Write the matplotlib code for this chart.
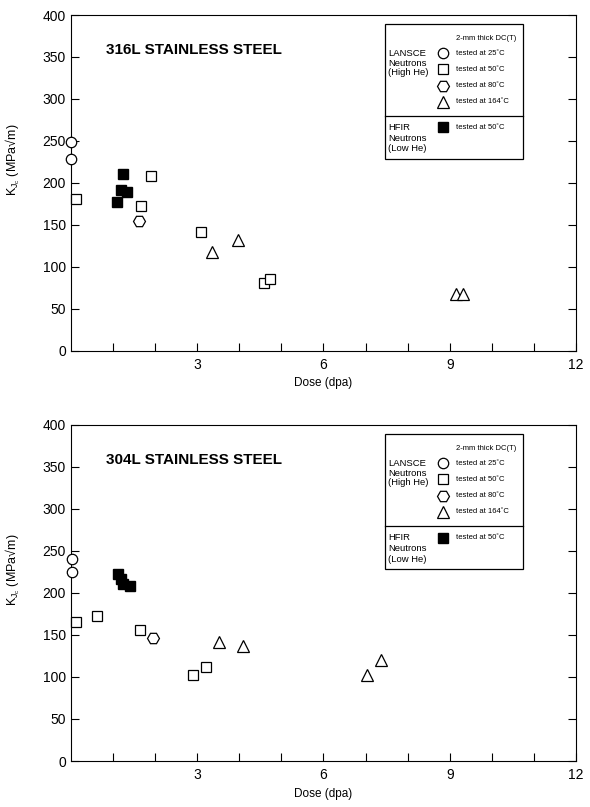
import numpy as np
import matplotlib
matplotlib.use("Agg")
import matplotlib.pyplot as plt
from matplotlib.patches import Rectangle
from matplotlib.lines import Line2D

plt.rcParams['font.family'] = ['Liberation Sans', 'DejaVu Sans']
plt.rcParams['mathtext.fontset'] = 'custom'
plt.rcParams['mathtext.rm'] = 'Liberation Sans'
plt.rcParams['mathtext.it'] = 'Liberation Sans'

# ---------- datos 316L ----------
a_c25_x = [0.0, 0.0]
a_c25_y = [249, 228]
a_s50_x = [0.12, 1.90, 1.67, 3.10, 4.59, 4.73]
a_s50_y = [181, 208, 173, 142, 81, 86]
a_h80_x = [1.61]
a_h80_y = [154]
a_t164_x = [3.35, 3.97, 9.16, 9.32]
a_t164_y = [118, 132, 67, 67]
a_hfir_x = [1.23, 1.18, 1.34, 1.10]
a_hfir_y = [211, 192, 189, 177]

# ---------- datos 304L ----------
b_c25_x = [0.02, 0.02]
b_c25_y = [241, 225]
b_s50_x = [0.12, 0.61, 1.65, 2.90, 3.21]
b_s50_y = [165, 173, 156, 102, 112]
b_h80_x = [1.94]
b_h80_y = [146]
b_t164_x = [3.52, 4.09, 7.03, 7.36]
b_t164_y = [142, 137, 102, 120]
b_hfir_x = [1.12, 1.20, 1.24, 1.40]
b_hfir_y = [223, 217, 211, 208]

titulos = ['316L STAINLESS STEEL', '304L STAINLESS STEEL']
temps = ['tested at 25\u02daC', 'tested at 50\u02daC', 'tested at 80\u02daC', 'tested at 164\u02daC']

fig = plt.figure(figsize=(5.9, 8.07), dpi=100)
ax1 = fig.add_axes([0.1203, 0.5654, 0.8560, 0.4160])
ax2 = fig.add_axes([0.1203, 0.0570, 0.8560, 0.4164])

# estilos de marcador
est = dict(linestyle='none', mfc='white', mec='black', mew=0.9, clip_on=False)
sym = [('o', 7.5), ('s', 7.2), ('H', 8.6), ('^', 8.4)]


def panel(ax, datos, titulo):
    for (x, y), (m, ms) in zip(datos[:4], sym):
        ax.plot(x, y, marker=m, ms=ms, zorder=3, **est)
    x, y = datos[4]
    ax.plot(x, y, marker='s', ms=7.2, linestyle='none', color='black', zorder=4, clip_on=False)

    ax.set_xlim(0, 12)
    ax.set_ylim(0, 400)
    ax.set_xticks([3, 6, 9, 12])
    ax.set_xticks(np.arange(1, 12), minor=True)
    ax.set_yticks(np.arange(0, 401, 50))
    ax.tick_params(axis='both', which='both', direction='in', length=6, width=0.8,
                   labelsize=10, right=True, top=False)
    ax.tick_params(axis='x', which='major', pad=5)
    for s in ax.spines.values():
        s.set_linewidth(0.8)
    ax.set_xlabel('Dose (dpa)', fontsize=8.5, labelpad=4)
    ax.set_ylabel('K$_{J_c}$ (MPa\u221am)', fontsize=9)
    ax.yaxis.set_label_coords(-0.097, 0.57)
    ax.text(0.07, 0.895, titulo, transform=ax.transAxes, fontsize=11,
            fontweight='bold', va='center', ha='left')

    # leyenda dibujada a mano
    L, R, T, B, D = 0.622, 0.895, 0.972, 0.571, 0.700
    ax.add_patch(Rectangle((L, B), R - L, T - B, transform=ax.transAxes,
                           fill=True, fc='white', ec='black', lw=0.9, zorder=5))
    ax.add_line(Line2D([L, R], [D, D], transform=ax.transAxes, color='black', lw=0.9, zorder=6))
    ax.text(0.762, 0.929, '2-mm thick DC(T)', transform=ax.transAxes, fontsize=5.5,
            va='center', zorder=6)
    for k, line in enumerate(['LANSCE', 'Neutrons', '(High He)']):
        ax.text(0.628, 0.886 - k * 0.029, line, transform=ax.transAxes, fontsize=6.8,
                va='center', zorder=6)
    filas = [0.886, 0.838, 0.789, 0.742]
    for yy, (m, ms), t in zip(filas, sym, temps):
        ax.plot([0.737], [yy], marker=m, ms=ms, transform=ax.transAxes, zorder=7, **est)
        ax.text(0.762, yy, t, transform=ax.transAxes, fontsize=5.5, va='center', zorder=6)
    for k, line in enumerate(['HFIR', 'Neutrons', '(Low He)']):
        ax.text(0.628, 0.665 - k * 0.032, line, transform=ax.transAxes, fontsize=6.8,
                va='center', zorder=6)
    ax.plot([0.737], [0.665], marker='s', ms=7.2, color='black', linestyle='none',
            transform=ax.transAxes, zorder=7, clip_on=False)
    ax.text(0.762, 0.665, 'tested at 50\u02daC', transform=ax.transAxes, fontsize=5.5,
            va='center', zorder=6)


panel(ax1, [(a_c25_x, a_c25_y), (a_s50_x, a_s50_y), (a_h80_x, a_h80_y),
            (a_t164_x, a_t164_y), (a_hfir_x, a_hfir_y)], titulos[0])
panel(ax2, [(b_c25_x, b_c25_y), (b_s50_x, b_s50_y), (b_h80_x, b_h80_y),
            (b_t164_x, b_t164_y), (b_hfir_x, b_hfir_y)], titulos[1])

fig.savefig('out.png', dpi=100)
